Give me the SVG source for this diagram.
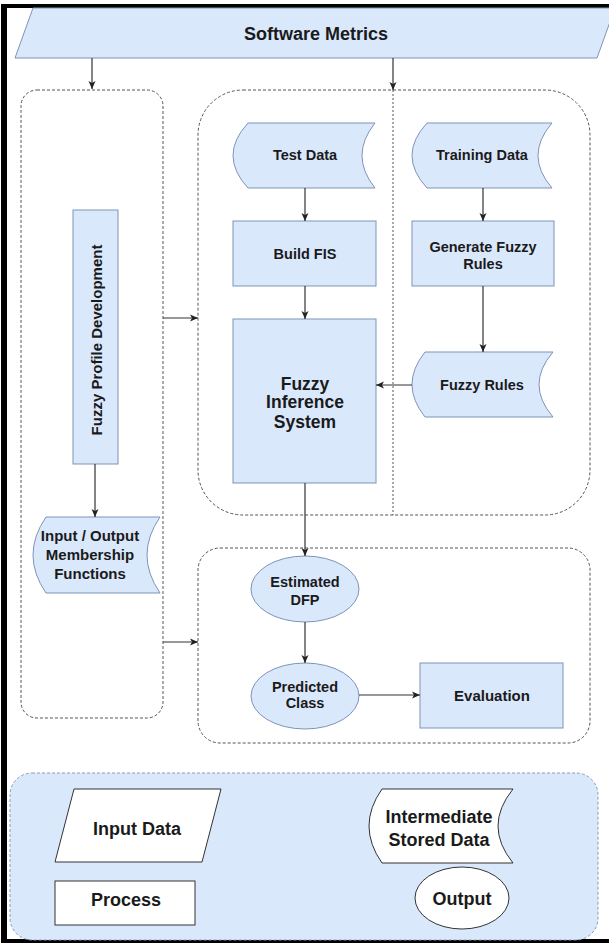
<svg xmlns="http://www.w3.org/2000/svg" width="609" height="943" viewBox="0 0 609 943">
<defs>
<marker id="ah" viewBox="0 0 8 8" refX="8" refY="4" markerWidth="8" markerHeight="8" markerUnits="userSpaceOnUse" orient="auto">
<path d="M0,0.5 L8,4 L0,7.5 L2,4 Z" fill="#222"/>
</marker>
<style>
.n{fill:#dae8fc;stroke:#7f93b8;stroke-width:1}
.lg{fill:#ffffff;stroke:#333;stroke-width:1}
.grp{fill:none;stroke:#555;stroke-width:1;stroke-dasharray:3 2}
.leg{fill:#dae8fc;stroke:#8a9bb5;stroke-width:1;stroke-dasharray:3 2}
.t{font-family:"Liberation Sans",Arial,sans-serif;font-weight:bold;fill:#1a1a1a;text-anchor:middle}
.s{font-size:14.5px}
.m{font-size:15px}
.b{font-size:17.5px}
.l{font-size:18px}
.c{stroke:#333;stroke-width:1.2;fill:none;marker-end:url(#ah)}
</style>
</defs>
<rect width="609" height="943" fill="#ffffff"/>
<!-- frame -->
<g id="frame">
<rect x="1" y="4" width="608" height="4" fill="#000"/>
<rect x="1" y="4" width="6" height="939" fill="#000"/>
<rect x="1" y="939" width="608" height="4" fill="#000"/>
</g>
<!-- containers -->
<g id="groups">
<rect class="grp" x="21" y="90" width="142" height="628" rx="16"/>
<rect class="grp" x="198" y="90" width="392" height="425" rx="45"/>
<line x1="393" y1="90" x2="393" y2="515" stroke="#555" stroke-width="1" stroke-dasharray="2 2"/>
<rect class="grp" x="198" y="548" width="392" height="195" rx="22"/>
</g>
<g id="software-metrics">
<path class="n" d="M33,8 L615,8 L597,58 L15,58 Z"/>
<text class="t" x="316" y="39.5" style="font-size:18px">Software Metrics</text>
</g>
<g id="test-data">
<path class="n" d="M248,123 L375,123 Q349,155.5 375,188 L248,188 Q218,155.5 248,123 Z"/>
<text class="t s" x="305" y="160">Test Data</text>
</g>
<g id="training-data">
<path class="n" d="M427,123 L552,123 Q524,155.5 552,188 L427,188 Q397,155.5 427,123 Z"/>
<text class="t s" x="482" y="160">Training Data</text>
</g>
<g id="build-fis">
<rect class="n" x="233" y="221" width="143" height="65"/>
<text class="t s" x="305" y="259">Build FIS</text>
</g>
<g id="generate-fuzzy-rules">
<rect class="n" x="412" y="221" width="142" height="65"/>
<text class="t s" x="483" y="252">Generate Fuzzy</text>
<text class="t s" x="483" y="268.5">Rules</text>
</g>
<g id="fuzzy-inference-system">
<rect class="n" x="233" y="319" width="143" height="164"/>
<text class="t b" x="305" y="389.5">Fuzzy</text>
<text class="t b" x="305" y="408">Inference</text>
<text class="t b" x="305" y="428">System</text>
</g>
<g id="fuzzy-rules">
<path class="n" d="M425,352 L553,352 Q525,384.5 553,417 L425,417 Q399,384.5 425,352 Z"/>
<text class="t s" x="482" y="390">Fuzzy Rules</text>
</g>
<g id="fuzzy-profile-development">
<rect class="n" x="73" y="210" width="45" height="254"/>
<text class="t m" x="96" y="345.5" transform="rotate(-90 96 340)">Fuzzy Profile Development</text>
</g>
<g id="io-membership">
<path class="n" d="M46,517 L160,517 Q134,555 160,593 L46,593 Q20,555 46,517 Z"/>
<text class="t m" x="90" y="540.5">Input / Output</text>
<text class="t m" x="90" y="559.5">Membership</text>
<text class="t m" x="90" y="578.5">Functions</text>
</g>
<g id="estimated-dfp">
<ellipse class="n" cx="305" cy="589" rx="54" ry="33"/>
<text class="t s" x="305" y="587">Estimated</text>
<text class="t s" x="305" y="605">DFP</text>
</g>
<g id="predicted-class">
<ellipse class="n" cx="305" cy="696" rx="54" ry="33"/>
<text class="t s" x="305" y="692">Predicted</text>
<text class="t s" x="305" y="708">Class</text>
</g>
<g id="evaluation">
<rect class="n" x="420" y="663" width="143" height="65"/>
<text class="t m" x="492" y="701">Evaluation</text>
</g>
<!-- legend -->
<g id="legend">
<rect class="leg" x="10" y="773" width="588" height="167" rx="22"/>
<g id="legend-input-data">
<path class="lg" d="M74,789 L221,789 L202,862 L55,862 Z"/>
<text class="t l" x="137" y="835">Input Data</text>
</g>
<g id="legend-process">
<rect class="lg" x="55" y="881" width="140" height="44"/>
<text class="t l" x="126" y="906">Process</text>
</g>
<g id="legend-stored-data">
<path class="lg" d="M382,789 L513,789 Q483,826 513,863 L382,863 Q356,826 382,789 Z"/>
<text class="t l" x="439" y="823">Intermediate</text>
<text class="t l" x="439" y="846">Stored Data</text>
</g>
<g id="legend-output">
<ellipse class="lg" cx="462" cy="898" rx="47" ry="31"/>
<text class="t l" x="462" y="905">Output</text>
</g>
</g>
<g id="connectors">
<line class="c" x1="92" y1="58" x2="92" y2="89"/>
<line class="c" x1="393" y1="58" x2="393" y2="90"/>
<line class="c" x1="305" y1="188" x2="305" y2="221"/>
<line class="c" x1="483" y1="188" x2="483" y2="221"/>
<line class="c" x1="305" y1="286" x2="305" y2="319"/>
<line class="c" x1="483" y1="286" x2="483" y2="352"/>
<line class="c" x1="412" y1="385" x2="376" y2="385"/>
<line class="c" x1="305" y1="483" x2="305" y2="556"/>
<line class="c" x1="305" y1="622" x2="305" y2="663"/>
<line class="c" x1="359" y1="695" x2="420" y2="695"/>
<line class="c" x1="95" y1="464" x2="95" y2="517"/>
<line class="c" x1="163" y1="318" x2="198" y2="318"/>
<line class="c" x1="163" y1="642" x2="198" y2="642"/>
</g>
</svg>
